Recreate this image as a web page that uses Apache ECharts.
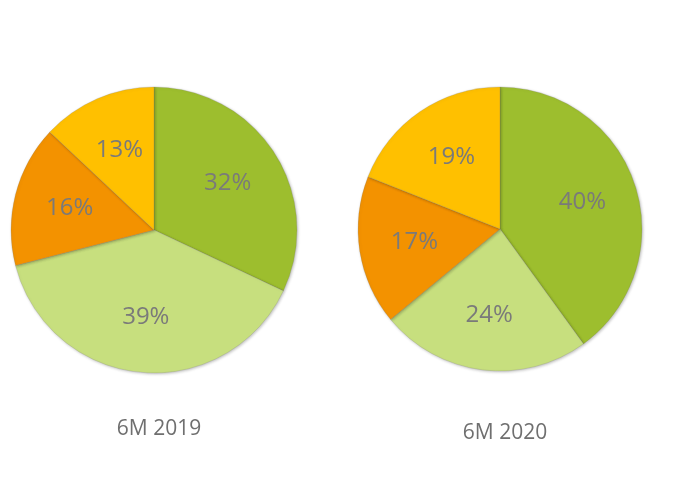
<!DOCTYPE html>
<html>
<head>
<meta charset="utf-8">
<script src="https://cdn.jsdelivr.net/npm/echarts@6/dist/echarts.min.js"></script>
<style>
  html, body { margin: 0; padding: 0; background: #fff; }
  #chart { width: 697px; height: 496px; }
</style>
</head>
<body>
<div id="chart"></div>
<script>
// 数据
var categories = ['A', 'B', 'C', 'D'];
var values2019 = [32, 39, 16, 13];
var values2020 = [40, 24, 17, 19];
var periodLabels = ['6M 2019', '6M 2020'];
var sliceColors = ['#9dbe2e', '#c7df7e', '#f39200', '#ffc000'];

var chart = echarts.init(document.getElementById('chart'));

// 饼图中心与半径（像素）
var pies = [
  { cx: 154, cy: 230, r: 143, values: values2019 },
  { cx: 500, cy: 229, r: 142, values: values2020 }
];

function buildData(vals) {
  var arr = [];
  for (var i = 0; i < vals.length; i++) {
    arr.push({ name: categories[i], value: vals[i], itemStyle: { color: sliceColors[i] } });
  }
  return arr;
}

// 标签向外推，放在约 0.6 半径处
function pushLabel(pie) {
  return function (params) {
    var lr = params.labelRect;
    var x = lr.x + lr.width / 2;
    var y = lr.y + lr.height / 2;
    return {
      x: pie.cx + (x - pie.cx) * 1.17,
      y: pie.cy + (y - pie.cy) * 1.17
    };
  };
}

var series = [];
for (var k = 0; k < pies.length; k++) {
  var p = pies[k];
  series.push({
    type: 'pie',
    center: [p.cx, p.cy],
    radius: [0, p.r],
    startAngle: 90,
    clockwise: true,
    silent: true,
    data: buildData(p.values),
    itemStyle: {
      borderColor: 'rgba(120,120,120,0.35)',
      borderWidth: 0.6,
      shadowColor: 'rgba(0,0,0,0.25)',
      shadowBlur: 3,
      shadowOffsetX: 1,
      shadowOffsetY: 1
    },
    label: {
      show: true,
      position: 'inside',
      formatter: '{c}%',
      color: '#7a7a7a',
      fontFamily: 'Open Sans',
      fontSize: 24
    },
    labelLine: { show: false },
    labelLayout: pushLabel(p)
  });
}

var option = {
  backgroundColor: '#ffffff',
  animation: false,
  title: [
    {
      text: periodLabels[0],
      left: 154, top: 414,
      textAlign: 'center',
      textStyle: { color: '#6f6f6f', fontFamily: 'Open Sans', fontSize: 21, fontWeight: 'normal' }
    },
    {
      text: periodLabels[1],
      left: 500, top: 418,
      textAlign: 'center',
      textStyle: { color: '#6f6f6f', fontFamily: 'Open Sans', fontSize: 21, fontWeight: 'normal' }
    }
  ],
  series: series
};

chart.setOption(option);
</script>
</body>
</html>
